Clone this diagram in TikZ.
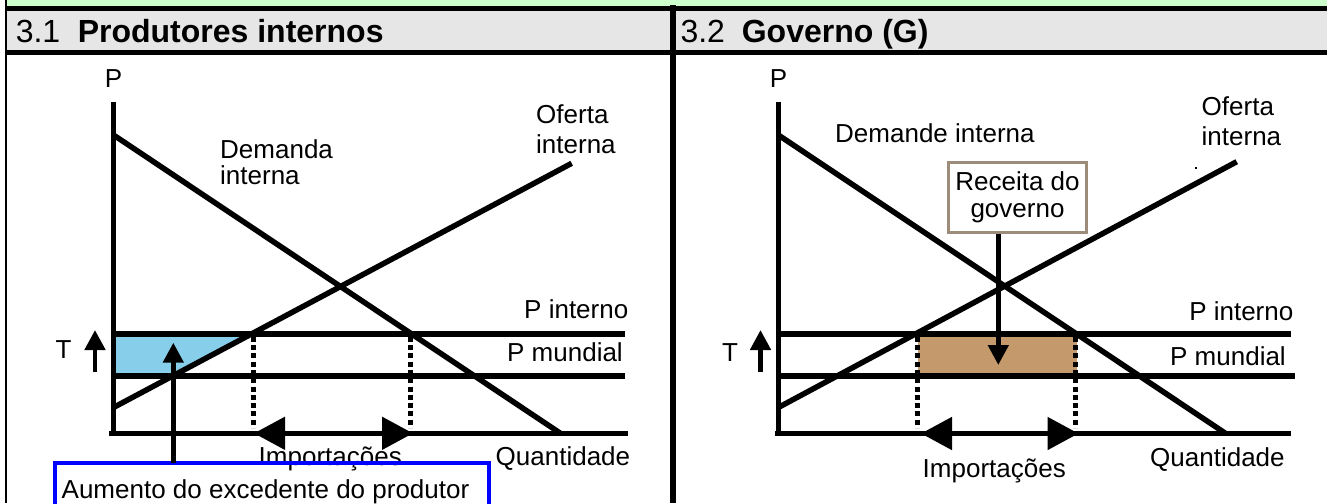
\documentclass[tikz,border=0pt]{standalone}
\usepackage{fontspec}
\setmainfont{Liberation Sans}
\usetikzlibrary{arrows.meta}
\definecolor{hdrgreen}{RGB}{204,255,204}
\definecolor{hdrgray}{RGB}{230,230,230}
\definecolor{skyfill}{RGB}{135,206,235}
\definecolor{tanfill}{RGB}{196,154,108}
\definecolor{boxbrown}{RGB}{158,140,122}
\definecolor{boxblue}{RGB}{0,0,255}
\tikzset{
  lbl/.style={inner sep=0pt, font=\fontsize{26}{29}\selectfont},
  hdr/.style={inner sep=0pt, font=\fontsize{32}{36}\selectfont},
  curve/.style={line width=5.5pt},
  pline/.style={line width=6pt},
  axisline/.style={line width=5pt},
  dots/.style={line width=4.5pt, dash pattern=on 5pt off 3.3pt},
  uparrow/.style={line width=4.7pt, -{Triangle[width=20pt,length=20pt]}},
  dblarrow/.style={line width=5pt, {Triangle[width=32pt,length=31pt]}-{Triangle[width=32pt,length=31pt]}},
}
\begin{document}
\begin{tikzpicture}[x=1pt,y=-1pt]
\useasboundingbox (0,0) rectangle (1327,503);
\clip (0,0) rectangle (1327,503);
% header band
\fill[hdrgreen] (6,0) rectangle (1327,7);
\fill[hdrgray] (6,10) rectangle (1327,51);
\draw[line width=4.7pt] (6,8.3) -- (1327,8.3);
\draw[line width=5pt] (6,52.5) -- (1327,52.5);
\draw[line width=2.5pt] (6.2,0) -- (6.2,503);
\draw[line width=6pt] (673,5) -- (673,503);
\node[hdr, anchor=base west] (h1n) at (15.6,43) {3.1};
\node[hdr, anchor=base west] (h1t) at (77.6,43) {\bfseries Produtores internos};
\node[hdr, anchor=base west] (h2n) at (680.3,43) {3.2};
\node[hdr, anchor=base west] (h2t) at (741.6,43) {\bfseries Governo (G)};

% ===== Panel 1 =====
\fill[skyfill] (113.5,333.5) -- (252.3,333.5) -- (173.5,375.5) -- (113.5,375.5) -- cycle;
\draw[axisline] (113.5,101.7) -- (113.5,436);
\draw[axisline] (109.3,433.3) -- (628.3,433.3);
\draw[pline] (113.5,333.7) -- (625,333.7);
\draw[pline] (113.5,375.5) -- (625,375.5);
\draw[curve] (113.5,135) -- (560,433);
\draw[curve] (113.5,407.5) -- (571.7,163.3);
\draw[dots] (253.3,336.7) -- (253.3,428);
\draw[dots] (410.5,336.7) -- (410.5,428);
\coordinate (imp1l) at (254,433.3);
\coordinate (imp1r) at (413,433.3);
\draw[dblarrow] (imp1l) -- (imp1r);
\coordinate (t1b) at (95,371.7);
\coordinate (t1t) at (95,330);
\draw[uparrow] (t1b) -- (t1t);
\node[lbl, anchor=base] (p1) at (113.5,87) {P};
\node[lbl, anchor=base west, align=left, font=\fontsize{26}{26}\selectfont] (dem1) at (220,184) {Demanda\\interna};
\node[lbl, anchor=base west, align=left, font=\fontsize{26}{30}\selectfont] (of1) at (536,153) {Oferta\\interna};
\node[lbl, anchor=base east] (pi1) at (628.5,318) {P interno};
\node[lbl, anchor=base east] (pm1) at (623,361.7) {P mundial};
\node[lbl, anchor=base west] (q1) at (495.5,465.5) {Quantidade};
\node[lbl, anchor=base west] (im1) at (258.5,465.3) {Importações};
\node[lbl, anchor=base] (T1) at (63.5,358) {T};
\node[lbl, anchor=base west] (aum) at (61.5,498.6) {Aumento do excedente do produtor};
\draw[boxblue, line width=4pt] (54.7,520) -- (54.7,463) -- (489.2,463) -- (489.2,520);
\coordinate (boxtop) at (173.3,463);
\coordinate (bluetip) at (173.3,342.7);
\draw[uparrow] (boxtop) -- (bluetip);

% ===== Panel 2 =====
\fill[tanfill] (918,333.5) rectangle (1076.5,375.5);
\draw[axisline] (778.3,101.7) -- (778.3,436);
\draw[axisline] (775,433.5) -- (1290.7,433.5);
\draw[pline] (778.3,333.5) -- (1290.7,333.5);
\draw[pline] (778.3,375.7) -- (1295,375.7);
\draw[curve] (778.3,135) -- (1225,433);
\draw[curve] (778.3,407.5) -- (1236.7,161.7);
\fill (1195,167) rectangle (1197,169);
\draw[dots] (917.7,336.7) -- (917.7,428);
\draw[dots] (1075.7,336.7) -- (1075.7,428);
\coordinate (imp2l) at (921,433.5);
\coordinate (imp2r) at (1078.5,433.5);
\draw[dblarrow] (imp2l) -- (imp2r);
\coordinate (t2b) at (760.5,371.7);
\coordinate (t2t) at (760.5,330);
\draw[uparrow] (t2b) -- (t2t);
\node[lbl, anchor=base] (p2) at (778.5,87) {P};
\node[lbl, anchor=base west] (dem2) at (835,142) {Demande interna};
\node[lbl, anchor=base west, align=left, font=\fontsize{26}{30}\selectfont] (of2) at (1201.5,145) {Oferta\\interna};
\node[lbl, anchor=base east] (pi2) at (1293.5,320) {P interno};
\node[lbl, anchor=base east] (pm2) at (1286,365) {P mundial};
\node[lbl, anchor=base west] (q2) at (1150,466) {Quantidade};
\node[lbl, anchor=base west] (im2) at (922.5,477) {Importações};
\node[lbl, anchor=base] (T2) at (730,361) {T};
\node[lbl, draw=boxbrown, line width=3.3pt, minimum width=138.3pt, minimum height=70pt, align=center, font=\fontsize{26}{27}\selectfont] (rec) at (1017.5,197.7) {Receita do\\governo};
\coordinate (rectip) at (998.3,365);
\draw[uparrow] (rec.south -| rectip) -- (rectip);
\end{tikzpicture}
\end{document}
